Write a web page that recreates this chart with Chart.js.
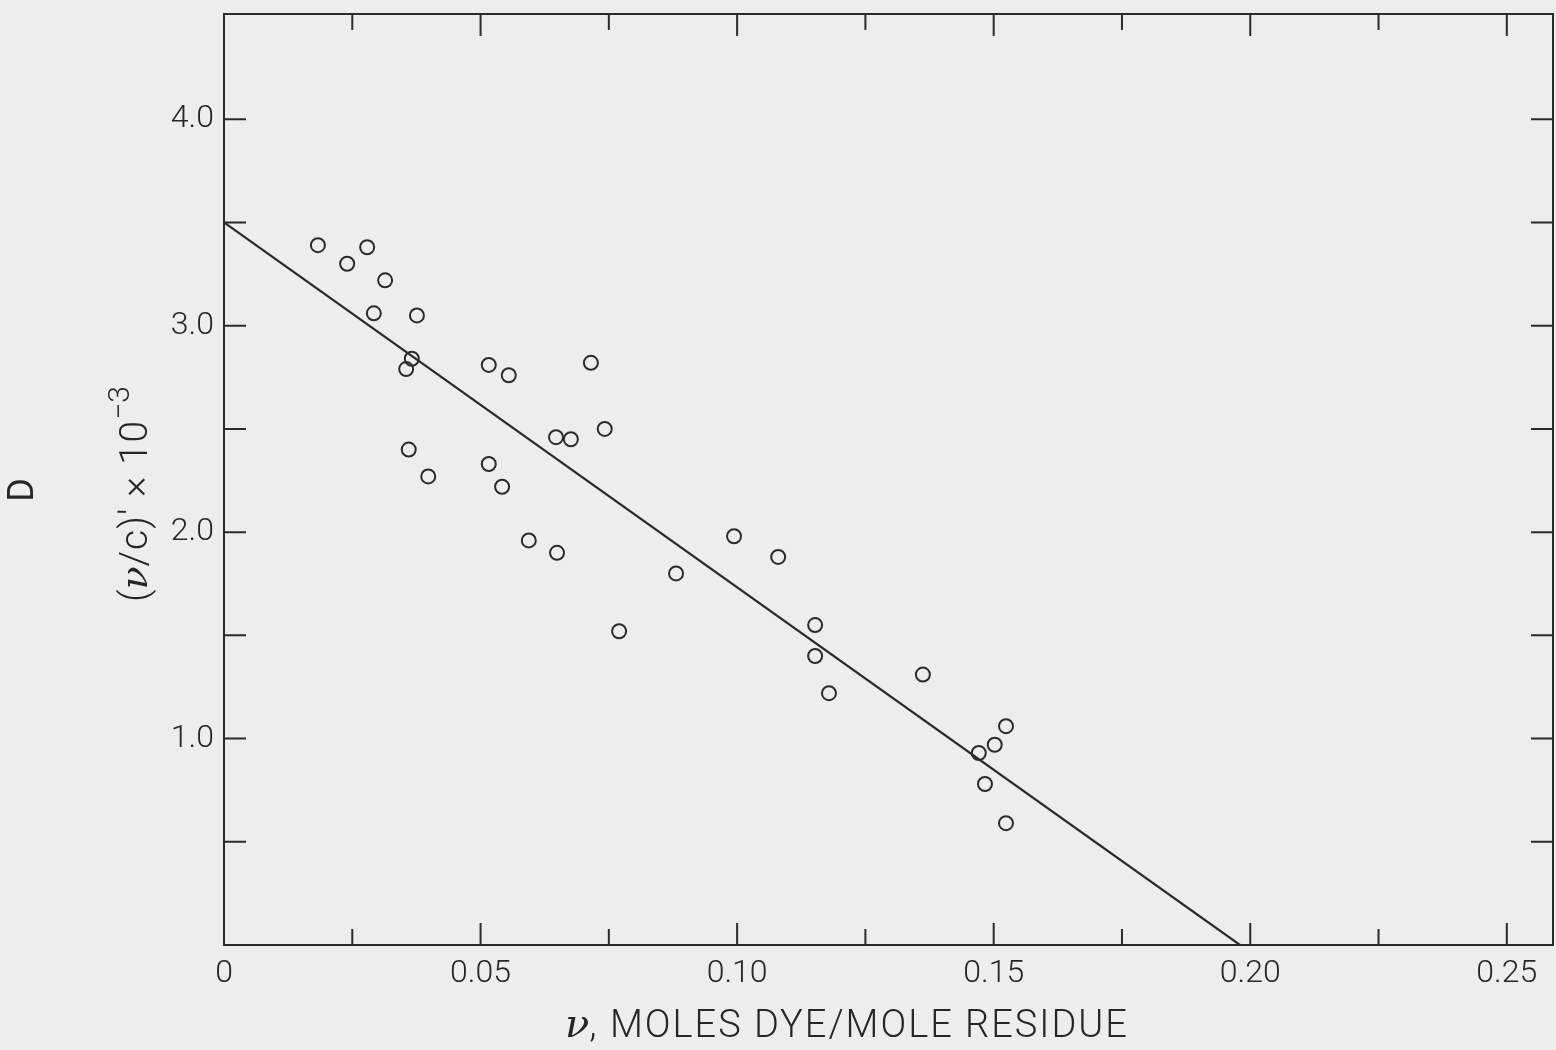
<!DOCTYPE html>
<html lang="en">
<head>
    <meta charset="UTF-8">
    <title>Scatchard plot</title>
    <script src="https://cdn.jsdelivr.net/npm/chart.js"></script>
    <style>
        body { margin: 0; background: #ededed; }
        canvas { display: block; }
    </style>
</head>
<body>
    <canvas id="myChart" width="1556" height="1050"></canvas>

<script>
    // nu, moles dye / mole residue
    var nu = [0.0183, 0.0240, 0.0279, 0.0314, 0.0292, 0.0376, 0.0366, 0.0355, 0.0360, 0.0398,
              0.0516, 0.0555, 0.0516, 0.0542, 0.0715, 0.0742, 0.0647, 0.0676, 0.0594, 0.0649,
              0.0770, 0.0881, 0.0994, 0.1080, 0.1152, 0.1152, 0.1179, 0.1362, 0.1471, 0.1502,
              0.1524, 0.1483, 0.1524]
    // (nu/c)' x 10^-3
    var nuOverC = [3.39, 3.30, 3.38, 3.22, 3.06, 3.05, 2.84, 2.79, 2.40, 2.27,
                   2.81, 2.76, 2.33, 2.22, 2.82, 2.50, 2.46, 2.45, 1.96, 1.90,
                   1.52, 1.80, 1.98, 1.88, 1.55, 1.40, 1.22, 1.31, 0.93, 0.97,
                   1.06, 0.78, 0.59]
    // fitted line end points
    var fitX = [0, 0.198]
    var fitY = [3.5, 0]

    // tick positions and their labels
    var xTicks = [0, 0.025, 0.05, 0.075, 0.10, 0.125, 0.15, 0.175, 0.20, 0.225, 0.25]
    var xLabels = ['0', '', '0.05', '', '0.10', '', '0.15', '', '0.20', '', '0.25']
    var yTicks = [0, 0.5, 1.0, 1.5, 2.0, 2.5, 3.0, 3.5, 4.0, 4.5]
    var yLabels = ['', '', '1.0', '', '2.0', '', '3.0', '', '4.0', '']

    var ink = '#2b2b2b'
    var textInk = '#262626'
    var fontFamily = "Roboto, 'Liberation Sans', sans-serif"
    var nuFont = "italic 400 {s}px 'DejaVu Serif', serif"

    var punti = nu.map(function (v, i) { return { x: v, y: nuOverC[i] } })
    var linha = fitX.map(function (v, i) { return { x: v, y: fitY[i] } })

    // draws several runs of text one after another, centred on 0,0
    function runs(c, parts) {
        var total = 0
        parts.forEach(function (p) {
            c.font = p.font
            c.letterSpacing = p.sp || '0px'
            p.w = c.measureText(p.t).width
            total += p.w
        })
        var x = -total / 2
        parts.forEach(function (p) {
            c.font = p.font
            c.letterSpacing = p.sp || '0px'
            c.fillText(p.t, x, p.dy || 0)
            x += p.w
        })
        c.letterSpacing = '0px'
    }

    // frame, inward ticks and axis titles
    const moldura = {
        id: 'moldura',
        beforeDatasetsDraw(chart) {
            const c = chart.ctx
            const a = chart.chartArea
            const sx = chart.scales.x
            const sy = chart.scales.y
            c.save()
            c.strokeStyle = ink
            c.lineWidth = 2
            c.strokeRect(a.left, a.top, a.right - a.left, a.bottom - a.top)

            c.beginPath()
            xTicks.forEach(function (v, i) {
                var px = sx.getPixelForValue(v)
                if (px - a.left < 5 || a.right - px < 5) return
                var len = xLabels[i] ? 22 : 16
                c.moveTo(px, a.bottom); c.lineTo(px, a.bottom - len)
                c.moveTo(px, a.top); c.lineTo(px, a.top + len)
            })
            yTicks.forEach(function (v) {
                var py = sy.getPixelForValue(v)
                if (py - a.top < 5 || a.bottom - py < 5) return
                c.moveTo(a.left, py); c.lineTo(a.left + 22, py)
                c.moveTo(a.right, py); c.lineTo(a.right - 22, py)
            })
            c.stroke()

            c.fillStyle = textInk
            c.textAlign = 'left'
            c.textBaseline = 'middle'

            c.save()
            c.translate(847, 1027)
            runs(c, [
                { t: 'ν', font: nuFont.replace('{s}', 40) },
                { t: ', MOLES DYE/MOLE RESIDUE', font: '300 38px ' + fontFamily, sp: '2px' }
            ])
            c.restore()

            c.save()
            c.translate(137, 494)
            c.rotate(-Math.PI / 2)
            runs(c, [
                { t: '(', font: '300 39px ' + fontFamily },
                { t: 'ν', font: nuFont.replace('{s}', 38) },
                { t: '/c)′ × 10', font: '300 39px ' + fontFamily, sp: '1px' },
                { t: '−3', font: '300 30px ' + fontFamily, dy: -16 }
            ])
            c.restore()

            c.save()
            c.translate(24, 490)
            c.rotate(-Math.PI / 2)
            c.textAlign = 'center'
            c.font = '400 36px ' + fontFamily
            c.fillText('D', 0, 0)
            c.restore()
            c.restore()
        }
    }

    const ctx = document.getElementById('myChart');

    new Chart(ctx, {
        type: 'scatter',
        data: {
            datasets: [{
                label: 'dados',
                data: punti,
                pointStyle: 'circle',
                pointRadius: 7,
                pointBorderWidth: 2,
                borderColor: ink,
                backgroundColor: 'rgba(0,0,0,0)'
            }, {
                type: 'line',
                label: 'ajuste',
                data: linha,
                borderColor: ink,
                borderWidth: 2.2,
                pointRadius: 0,
                fill: false
            }]
        },
        options: {
            responsive: false,
            animation: false,
            layout: { autoPadding: false, padding: { top: 14, right: 3, left: 0, bottom: 0 } },
            plugins: {
                legend: { display: false },
                tooltip: { enabled: false }
            },
            scales: {
                x: {
                    type: 'linear',
                    min: 0,
                    max: 0.259,
                    grid: { display: false, drawTicks: false },
                    border: { display: false },
                    afterBuildTicks: function (scale) {
                        scale.ticks = xTicks.map(function (v) { return { value: v } })
                    },
                    afterFit: function (scale) {
                        scale.height = 105
                        scale.paddingLeft = 0
                        scale.paddingRight = 0
                    },
                    ticks: {
                        autoSkip: false,
                        maxRotation: 0,
                        padding: 10,
                        color: textInk,
                        font: { family: fontFamily, size: 32, weight: 300 },
                        callback: function (v, i) { return xLabels[i] }
                    }
                },
                y: {
                    type: 'linear',
                    min: 0,
                    max: 4.51,
                    grid: { display: false, drawTicks: false },
                    border: { display: false },
                    afterBuildTicks: function (scale) {
                        scale.ticks = yTicks.map(function (v) { return { value: v } })
                    },
                    afterFit: function (scale) {
                        scale.width = 224
                        scale.paddingTop = 0
                        scale.paddingBottom = 0
                    },
                    ticks: {
                        autoSkip: false,
                        padding: 10,
                        color: textInk,
                        font: { family: fontFamily, size: 32, weight: 300 },
                        callback: function (v, i) { return yLabels[i] }
                    }
                }
            }
        },
        plugins: [moldura]
    });
</script>
</body>
</html>
